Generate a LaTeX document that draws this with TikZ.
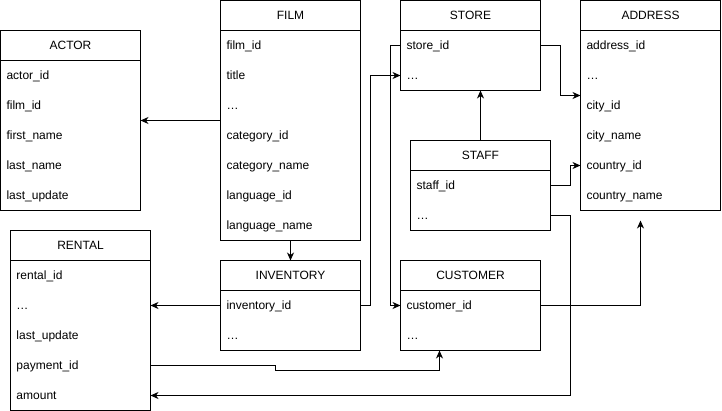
\documentclass[tikz,border=0pt]{standalone}
\usepackage{fontspec}
\setmainfont{Liberation Sans}
\usetikzlibrary{positioning, arrows.meta, calc}

\begin{document}
\begin{tikzpicture}[
    x=1pt, y=-1pt,
    % Table Styles
    tablebox/.style={rectangle, draw=black, line width=1pt, anchor=north west, minimum width=140pt, inner sep=0pt, outer sep=0pt},
    tablehead/.style={rectangle, anchor=north, minimum width=140pt, minimum height=30pt, inner sep=0pt, outer sep=0pt, text height=10pt, text depth=1.5pt, font=\fontsize{12}{14}\selectfont},
    tablerow/.style={rectangle, anchor=north west, text width=128pt, inner xsep=6pt, inner ysep=0pt, outer sep=0pt, minimum height=30pt, align=left, text height=10pt, text depth=1.5pt, font=\fontsize{12}{14}\selectfont},
    % Edge Styles
    fkarrow/.style={-{Stealth[length=8pt, width=7pt, inset=2.5pt]}, line width=1pt, color=black}
]

\useasboundingbox (-0.5,-0.5) rectangle (721.5,410.5);

% Helper macro for tables
% #1: Node Name, #2: Top Left Corner, #3: Title, #4: Rows
\newcommand{\dbTable}[4]{
    \node[tablehead] (#1-title) at ($(#2)+(70,0)$) {#3};
    \foreach \rowtext [count=\i] in {#4} {
        \node[tablerow] (#1-\i) at ($(#2)+(0,30*\i)$) {\rowtext};
        \xdef\nrows{\i}
    }
    \node[tablebox, minimum height={30*(\nrows+1)}] (#1) at (#2) {};
    \draw[line width=1pt] (#1-title.south west) -- (#1-title.south east);
}

% Tables
\dbTable{actor}{0,30}{ACTOR}{actor\_id, film\_id, first\_name, last\_name, last\_update}
\dbTable{film}{220,0}{FILM}{film\_id, title, \ldots, category\_id, category\_name, language\_id, language\_name}
\dbTable{store}{400,0}{STORE}{store\_id, \ldots}
\dbTable{address}{580,0}{ADDRESS}{address\_id, \ldots, city\_id, city\_name, country\_id, country\_name}
\dbTable{staff}{410,140}{STAFF}{staff\_id, \ldots}
\dbTable{rental}{10,230}{RENTAL}{rental\_id, \ldots, last\_update, payment\_id, amount}
\dbTable{inventory}{220,260}{INVENTORY}{inventory\_id, \ldots}
\dbTable{customer}{400,260}{CUSTOMER}{customer\_id, \ldots}

% Foreign keys
\draw[fkarrow] (film.west) -- (film.west -| actor.east);
\draw[fkarrow] (film.south) -- (inventory.north);
\draw[fkarrow] (inventory-1.west) -- (inventory-1.west -| rental.east);
\draw[fkarrow] (inventory-1.east) -- ++(10,0) |- (store-2.west);
\draw[fkarrow] (store-1.west) -- ++(-10,0) |- (customer-1.west);
\draw[fkarrow] (store-1.east) -- ++(20,0) |- ([yshift=-5pt]address-3.north west);
\draw[fkarrow] (staff.north) -- (staff.north |- store.south);
\draw[fkarrow] (staff-1.east) -- ++(20,0) |- (address-5.west);
\draw[fkarrow] (staff-2.east) -- ++(20,0) |- (rental-5.east);

% Free ends
\coordinate (address-in) at ([xshift=-10pt, yshift=-10pt]address.south);
\draw[fkarrow] (customer-1.east) -| (address-in);
\draw[fkarrow] (rental-4.east) -- ++(125,0) -- ++(0,5) -| ([xshift=39pt]customer.south west);

\end{tikzpicture}
\end{document}
